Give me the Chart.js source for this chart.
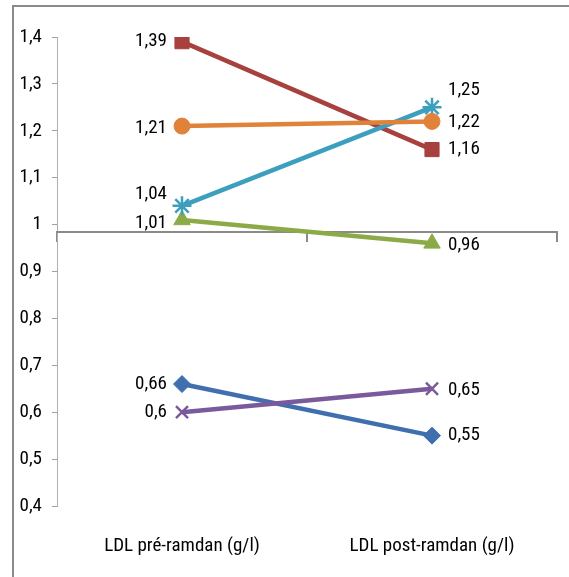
<!DOCTYPE html>
<html>
<head>
<meta charset="utf-8">
<script src="https://cdn.jsdelivr.net/npm/chart.js@4/dist/chart.umd.min.js"></script>
<style>
  html, body { margin: 0; padding: 0; background: #fff; }
  #wrap { position: relative; width: 569px; height: 577px; overflow: hidden; }
  #frame { position: absolute; left: 12px; top: 5px; width: 600px; height: 600px;
           border-left: 2px solid #8a8a8a; border-top: 2px solid #8a8a8a; }
  canvas { position: absolute; left: 0; top: 0; }
</style>
</head>
<body>
<div id="wrap">
  <div id="frame"></div>
  <canvas id="c" width="569" height="577"></canvas>
</div>
<script>
// ---- data ----
const categories = ['LDL pré-ramdan (g/l)', 'LDL post-ramdan (g/l)'];
const seriesBlue   = [0.66, 0.55];
const seriesRed    = [1.39, 1.16];
const seriesGreen  = [1.01, 0.96];
const seriesPurple = [0.60, 0.65];
const seriesTeal   = [1.04, 1.25];
const seriesOrange = [1.21, 1.22];
const yMin = 0.4, yMax = 1.4, yStep = 0.1;
const axisCross = 0.985;

// ---- styles ----
const FONT = "'Roboto Condensed', 'Liberation Sans Narrow', sans-serif";
const FSIZE = 19;
const styles = [
  { data: seriesBlue,   color: '#3f6fae', point: 'rectRot',  radius: 8.5, nudge: [0, 0] },
  { data: seriesRed,    color: '#a8403d', point: 'rect',     radius: 10,  nudge: [0, 0] },
  { data: seriesGreen,  color: '#8cab48', point: 'triangle', radius: 9.5, nudge: [3, 2] },
  { data: seriesPurple, color: '#7a5a9c', point: 'crossRot', radius: 8.5, nudge: [0, 1] },
  { data: seriesTeal,   color: '#3d9fbe', point: 'star',     radius: 9.5, nudge: [-12, -17] },
  { data: seriesOrange, color: '#e0823a', point: 'circle',   radius: 8,   nudge: [2, 1] }
];

const fmt = v => String(v).replace('.', ',');

const labelPlugin = {
  id: 'pointLabels',
  afterDatasetsDraw(chart) {
    const ctx = chart.ctx;
    ctx.save();
    ctx.font = FSIZE + 'px ' + FONT;
    ctx.fillStyle = '#000';
    ctx.textBaseline = 'middle';
    chart.data.datasets.forEach((ds, i) => {
      const meta = chart.getDatasetMeta(i);
      meta.data.forEach((pt, j) => {
        const nudge = styles[i].nudge[j] || 0;
        if (j === 0) {
          ctx.textAlign = 'right';
          ctx.fillText(fmt(ds.data[j]), pt.x - 15, pt.y + nudge);
        } else {
          ctx.textAlign = 'left';
          ctx.fillText(fmt(ds.data[j]), pt.x + 16, pt.y + nudge);
        }
      });
    });
    ctx.restore();
  }
};

const datasets = styles.map((s, i) => ({
  data: s.data,
  borderColor: s.color,
  backgroundColor: s.color,
  borderWidth: 4.5,
  pointStyle: s.point,
  pointRadius: s.radius,
  pointBorderWidth: (s.point === 'crossRot' || s.point === 'star') ? 2.5 : 1,
  pointBackgroundColor: s.color,
  pointBorderColor: s.color,
  tension: 0,
  order: 10 - i,
  xAxisID: 'x'
}));

new Chart(document.getElementById('c'), {
  type: 'line',
  data: { labels: categories, datasets },
  options: {
    responsive: false,
    animation: false,
    devicePixelRatio: 1,
    layout: { padding: { top: 37, right: 9, left: 0, bottom: 0 } },
    plugins: { legend: { display: false }, tooltip: { enabled: false } },
    scales: {
      y: {
        min: yMin, max: yMax,
        afterFit(scale) { scale.width = 57; },
        ticks: {
          stepSize: yStep,
          padding: 10,
          color: '#000',
          font: { family: FONT, size: FSIZE },
          callback: v => fmt(Math.round(v * 10) / 10)
        },
        grid: { drawOnChartArea: false, tickLength: 5, color: '#a0a0a0' },
        border: { color: '#b0b0b0', width: 1 }
      },
      x: {
        type: 'category',
        position: { y: axisCross },
        offset: true,
        ticks: { display: false },
        grid: { offset: true, drawOnChartArea: false, tickLength: 9, color: '#8a8a8a', lineWidth: 2 },
        border: { color: '#8a8a8a', width: 2 }
      },
      x2: {
        type: 'category',
        position: 'bottom',
        offset: true,
        afterFit(scale) { scale.height = 71; },
        ticks: { padding: 29, color: '#000', font: { family: FONT, size: FSIZE } },
        grid: { display: false, drawTicks: false },
        border: { display: false }
      }
    }
  },
  plugins: [labelPlugin]
});
</script>
</body>
</html>
